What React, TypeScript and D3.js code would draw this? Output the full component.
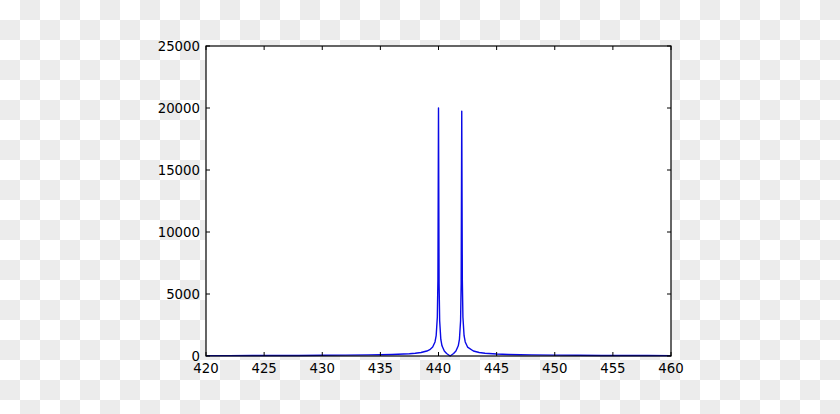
import React, { useRef, useEffect } from "react";
import * as d3 from "d3";

// wavelength samples (denser close to the two lines)
const xs = [
  420, 422, 424, 426, 428, 430, 432, 434, 435, 436, 437, 437.5, 438, 438.5,
  439, 439.25, 439.5, 439.7, 439.8, 439.9, 439.95, 440, 440.05, 440.1, 440.2,
  440.3, 440.5, 440.7, 441, 441.3, 441.5, 441.7, 441.8, 441.9, 441.95, 442,
  442.05, 442.1, 442.2, 442.3, 442.5, 443, 443.5, 444, 445, 446, 447, 448,
  450, 452, 454, 456, 458, 460
];

const ys = [
  29, 32, 35, 40, 46, 55, 68, 88, 103, 125, 160, 187, 225, 286,
  400, 509, 720, 1130, 1636, 3143, 6146, 20000, 5846, 2842, 1333,
  824, 400, 198, 0, 198, 400, 824, 1333, 2842, 5846, 19750,
  6146, 3143, 1636, 1130, 720, 400, 286, 225, 160, 125, 103, 88,
  68, 55, 46, 40, 35, 32
];

const xTicks = [420, 425, 430, 435, 440, 445, 450, 455, 460];
const yTicks = [0, 5000, 10000, 15000, 20000, 25000];

const App = () => {
  const node: any = useRef();

  useEffect(() => {
    const width = 840,
      height = 414;
    const left = 206,
      right = 671,
      top = 46,
      bottom = 356;
    const font = "'DejaVu Sans', sans-serif";

    const svg = d3.select(node.current);
    svg.selectAll("*").remove();
    svg.attr("width", width).attr("height", height);

    // transparent-background checkerboard
    const pat = svg
      .append("defs")
      .append("pattern")
      .attr("id", "checker")
      .attr("width", 40)
      .attr("height", 40)
      .attr("patternUnits", "userSpaceOnUse");
    pat.append("rect").attr("width", 40).attr("height", 40).attr("fill", "#ffffff");
    pat.append("rect").attr("x", 20).attr("width", 20).attr("height", 20).attr("fill", "#ececec");
    pat.append("rect").attr("y", 20).attr("width", 20).attr("height", 20).attr("fill", "#ececec");
    svg.append("rect").attr("width", width).attr("height", height).attr("fill", "url(#checker)");

    const x = d3.scaleLinear().domain([420, 460]).range([left, right]);
    const y = d3.scaleLinear().domain([0, 25000]).range([bottom, top]);

    svg
      .append("rect")
      .attr("x", left)
      .attr("y", top)
      .attr("width", right - left)
      .attr("height", bottom - top)
      .attr("fill", "white");

    const line = d3
      .line<number>()
      .x((_, i) => x(xs[i]))
      .y(d => y(d));

    svg
      .append("path")
      .datum(ys)
      .attr("d", line)
      .attr("fill", "none")
      .attr("stroke", "#0a0ae6")
      .attr("stroke-width", 1.4)
      .attr("stroke-linejoin", "round");

    //frame
    svg
      .append("rect")
      .attr("x", left)
      .attr("y", top)
      .attr("width", right - left)
      .attr("height", bottom - top)
      .attr("fill", "none")
      .attr("stroke", "black")
      .attr("stroke-width", 1.2);

    //ticks, pointing inward on all sides
    const g = svg.append("g").attr("stroke", "black").attr("stroke-width", 1);
    xTicks.forEach(t => {
      g.append("line").attr("x1", x(t)).attr("x2", x(t)).attr("y1", bottom).attr("y2", bottom - 4);
      g.append("line").attr("x1", x(t)).attr("x2", x(t)).attr("y1", top).attr("y2", top + 4);
    });
    yTicks.forEach(t => {
      g.append("line").attr("x1", left).attr("x2", left + 4).attr("y1", y(t)).attr("y2", y(t));
      g.append("line").attr("x1", right).attr("x2", right - 4).attr("y1", y(t)).attr("y2", y(t));
    });

    //labels
    svg
      .append("g")
      .selectAll("text")
      .data(xTicks)
      .enter()
      .append("text")
      .attr("x", d => x(d))
      .attr("y", 373)
      .attr("text-anchor", "middle")
      .attr("font-family", font)
      .attr("font-size", "13.3px")
      .attr("fill", "black")
      .text(d => d);

    svg
      .append("g")
      .selectAll("text")
      .data(yTicks)
      .enter()
      .append("text")
      .attr("x", 200)
      .attr("y", d => y(d))
      .attr("dy", "0.36em")
      .attr("text-anchor", "end")
      .attr("font-family", font)
      .attr("font-size", "13.3px")
      .attr("fill", "black")
      .text(d => d);
  }, []);

  return (
    <div>
      <style>{`body { margin: 0; }`}</style>
      <svg ref={node} style={{ display: "block" }}></svg>
    </div>
  );
};

export default App;
